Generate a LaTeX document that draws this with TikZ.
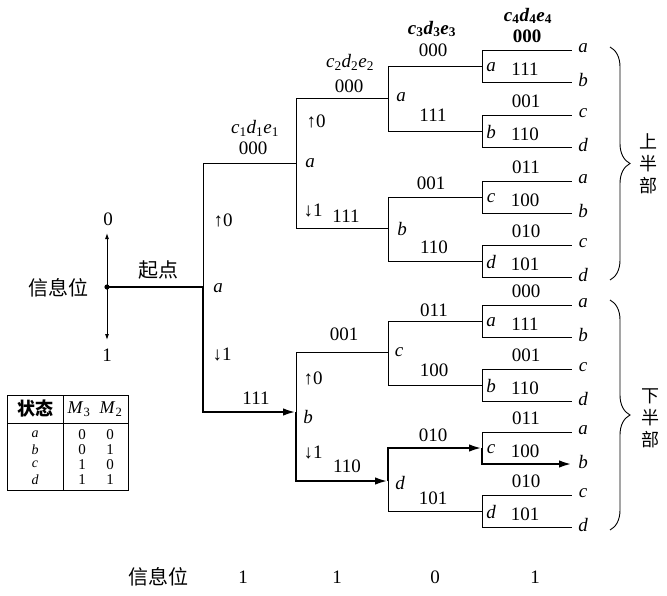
\documentclass[tikz,border=0pt]{standalone}
\usepackage{fontspec}
\setmainfont{Liberation Serif}
\newfontfamily\cjk{Noto Sans CJK SC}
\usetikzlibrary{arrows.meta,decorations.pathreplacing}
\newcommand{\cdeX}[1]{\textit{c}\textsubscript{#1}\textit{d}\textsubscript{#1}\textit{e}\textsubscript{#1}}
\begin{document}
\begin{tikzpicture}[x=1pt,y=-1pt,
  every node/.style={inner sep=0pt},
  lab/.style={font=\fontsize{19}{19}\selectfont},
  ilab/.style={font=\fontsize{19}{19}\selectfont\itshape},
  cjklab/.style={font=\fontsize{18}{22}\selectfont\cjk},
  tab/.style={font=\fontsize{15}{15}\selectfont},
  br/.style={line width=0.9pt},
  hot/.style={line width=2.4pt,-{Latex[length=13pt,width=7.5pt]}},
  smallarr/.style={line width=0.9pt,-{Latex[length=6pt,width=4pt]}},
  bracestyle/.style={line width=0.9pt,decorate,decoration={brace,amplitude=20pt}}
]
\useasboundingbox (0,0) rectangle (667,595);

% ---- tree nodes (coordinates) ----
\coordinate (S) at (107,287);
\coordinate (U0) at (107,233);
\coordinate (D1) at (107,340);
\coordinate (L1) at (203,287);
\coordinate (A2) at (296,163);
\coordinate (B2) at (296,412);
\coordinate (A3) at (388,98);
\coordinate (B3) at (388,228);
\coordinate (C3) at (388,352);
\coordinate (D3) at (388,481);

% level 4 groups
\foreach \i/\y/\up/\nm/\dn in {1/66/000/a/111, 2/131/001/b/110, 3/197/011/c/100, 4/261/010/d/101,
                               5/321/000/a/111, 6/385/001/b/110, 7/448/011/c/100, 8/511/010/d/101}{
  \coordinate (G\i) at (482,\y);
  \ifnum\i=1
    \node[lab,font=\fontsize{19}{19}\selectfont\bfseries] (gu\i) at (527,\y-30) {\up};
  \else
    \node[lab] (gu\i) at (526,\y-30) {\up};
  \fi
  \node[ilab] (gn\i) at (491,\y+1) {\nm};
  \node[lab] (gd\i) at (525,\y+3) {\dn};
}

% leaves
\foreach \k/\ly/\lt in {1/50/a, 2/82/b, 3/115/c, 4/147/d, 5/181/a, 6/213/b, 7/245/c, 8/277/d,
                        9/305/a, 10/337/b, 11/369/c, 12/401/d, 13/432/a, 14/464/b, 15/495/c, 16/527/d}{
  \coordinate (F\k) at (572,\ly);
  \node[ilab] (fl\k) at (583,\ly-2) {\lt};
}

% ---- connectors ----
\draw[br] (L1) |- (A2);
\draw[hot] (S) -- (L1) |- (B2);
\draw[br] (A2) |- (A3);
\draw[br] (A2) |- (B3);
\draw[br] (B2) |- (C3);
\draw[hot] (B2) |- (D3);
\draw[br] (A3) |- (G1);
\draw[br] (A3) |- (G2);
\draw[br] (B3) |- (G3);
\draw[br] (B3) |- (G4);
\draw[br] (C3) |- (G5);
\draw[br] (C3) |- (G6);
\draw[hot] (D3) |- (G7);
\draw[br] (D3) |- (G8);
\foreach \i in {1,...,8}{
  \pgfmathtruncatemacro{\ja}{2*\i-1}
  \pgfmathtruncatemacro{\jb}{2*\i}
  \draw[br] (G\i) |- (F\ja);
  \ifnum\i=7\else
  \draw[br] (G\i) |- (F\jb);
  \fi
}
\draw[hot] (G7) |- (F14);

% info bit arrows
\draw[smallarr] (S) -- (U0);
\draw[smallarr] (S) -- (D1);
\fill (S) circle (2.6pt);
\node[lab] (z0) at (108,219) {0};
\node[lab] (z1) at (107,355) {1};
\node[cjklab,font=\fontsize{20}{20}\selectfont\cjk] (xinxi) at (58,288) {信息位};
\node[cjklab,font=\fontsize{20}{20}\selectfont\cjk] (qidian) at (158,270) {起点};

% level-1 labels
\node[ilab] (n1) at (218,288) {a};
\node[lab] (cde1) at (255,128) {\cdeX{1}};
\node[lab] (c1a) at (253,148) {000};
\node[lab] (c1b) at (256,398) {111};
\node[lab] (ar1u) at (223,220) {↑0};
\node[lab] (ar1d) at (222,355) {↓1};

% level-2 labels
\node[ilab] (n2a) at (310,163) {a};
\node[ilab] (n2b) at (308,417) {b};
\node[lab] (cde2) at (350,62) {\cdeX{2}};
\node[lab] (c2a) at (349,86) {000};
\node[lab] (c2b) at (346,216) {111};
\node[lab] (c2c) at (344,334) {001};
\node[lab] (c2d) at (347,466) {110};
\node[lab] (ar2u) at (316,121) {↑0};
\node[lab] (ar2d) at (313,211) {↓1};
\node[lab] (ar3u) at (313,378) {↑0};
\node[lab] (ar3d) at (313,453) {↓1};

% level-3 labels
\node[ilab] (n3a) at (401,97) {a};
\node[ilab] (n3b) at (402,229) {b};
\node[ilab] (n3c) at (399,352) {c};
\node[ilab] (n3d) at (400,483) {d};
\node[lab,font=\fontsize{19}{19}\selectfont\bfseries] (cde3) at (432,29) {\cdeX{3}};
\node[lab] (c3a) at (433,50) {000};
\node[lab] (c3b) at (433,115) {111};
\node[lab] (c3c) at (431,183) {001};
\node[lab] (c3d) at (434,247) {110};
\node[lab] (c3e) at (434,310) {011};
\node[lab] (c3f) at (434,370) {100};
\node[lab] (c3g) at (433,435) {010};
\node[lab] (c3h) at (433,498) {101};
\node[lab,font=\fontsize{19}{19}\selectfont\bfseries] (cde4) at (528,16) {\cdeX{4}};

% braces
\coordinate (BrTa) at (610,47);
\coordinate (BrTb) at (610,280);
\coordinate (BrBa) at (610,300);
\coordinate (BrBb) at (610,530);
\draw[bracestyle] (BrTa) -- (BrTb);
\draw[bracestyle] (BrBa) -- (BrBb);
\node[cjklab,align=center] (shang) at (648,164) {上\\半\\部};
\node[cjklab,align=center] (xia) at (650,418) {下\\半\\部};

% state table
\draw[line width=0.8pt] (7,395) rectangle (128,490);
\draw[line width=0.8pt] (7,423) -- (128,423);
\draw[line width=0.8pt] (63,395) -- (63,490);
\node[cjklab,font=\fontsize{18}{18}\selectfont\cjk\bfseries] (th1) at (35,409) {状态};
\node[font=\fontsize{18}{18}\selectfont] (th2) at (79,409) {\textit{M}\textsubscript{3}};
\node[font=\fontsize{18}{18}\selectfont] (th3) at (111,409) {\textit{M}\textsubscript{2}};
\foreach \r/\ry/\s/\p/\q in {1/434.5/a/0/0, 2/449.5/b/0/1, 3/464.5/c/1/0, 4/479.5/d/1/1}{
  \node[tab,font=\fontsize{14}{14}\selectfont\itshape] (ts\r) at (35,\ry) {\s};
  \node[tab] (tp\r) at (82,\ry) {\p};
  \node[tab] (tq\r) at (110,\ry) {\q};
}

% bottom row
\node[cjklab,font=\fontsize{20}{20}\selectfont\cjk] (xinxib) at (158,577) {信息位};
\node[lab] (b1) at (243,577) {1};
\node[lab] (b2) at (337,577) {1};
\node[lab] (b3) at (435,577) {0};
\node[lab] (b4) at (535,577) {1};
\end{tikzpicture}
\end{document}
